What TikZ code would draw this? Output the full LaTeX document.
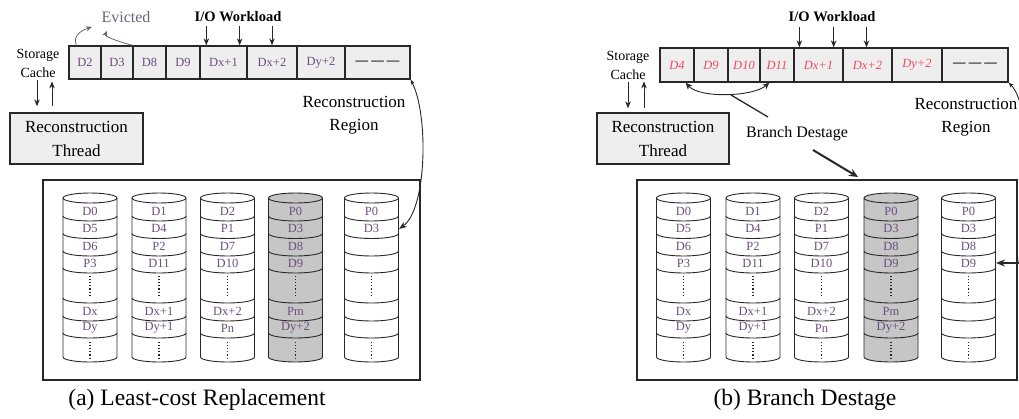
\documentclass[tikz,border=0pt]{standalone}
\usepackage{fontspec}
\setmainfont{Liberation Serif}
\usetikzlibrary{arrows.meta}
\definecolor{labcol}{RGB}{110,78,125}
\definecolor{redlab}{RGB}{235,75,95}
\definecolor{evcol}{RGB}{100,104,125}
\definecolor{cachefill}{RGB}{238,238,238}
\definecolor{diskgray}{RGB}{198,198,198}
\definecolor{linecol}{RGB}{40,40,40}
\tikzset{
  cell/.style={draw=linecol, line width=1.3pt, fill=cachefill, minimum height=33, inner sep=0pt, font=\fontsize{12.5}{14}\selectfont, text=labcol},
  redcell/.style={cell, minimum height=34, text=redlab, font=\fontsize{12.5}{14}\selectfont\itshape},
  dashcell/.style={cell, text=black, font=\fontsize{12.5}{14}\selectfont\bfseries},
  thread/.style={draw=linecol, line width=1.3pt, fill=cachefill, minimum width=133, minimum height=51, inner sep=0pt, align=center, font=\fontsize{17}{24}\selectfont},
  smalltxt/.style={align=center, inner sep=0pt, font=\fontsize{14}{19}\selectfont},
  regtxt/.style={align=center, inner sep=0pt, font=\fontsize{17}{23}\selectfont},
  evtxt/.style={inner sep=0pt, text=evcol, font=\fontsize{16}{18}\selectfont},
  iotxt/.style={inner sep=0pt, font=\fontsize{14.5}{17}\selectfont\bfseries},
  bdtxt/.style={inner sep=0pt, font=\fontsize{16}{18}\selectfont},
  captxt/.style={inner sep=0pt, font=\fontsize{23.5}{26}\selectfont},
  arr/.style={draw=linecol, line width=1pt, -{Stealth[length=7pt,width=5.5pt]}},
  thinarr/.style={draw=evcol, line width=0.8pt, -{Stealth[length=6pt,width=5pt,fill=black]}},
  curvarr/.style={draw=linecol, line width=0.9pt, {Stealth[length=5pt,width=4pt]}-{Stealth[length=8pt,width=6pt]}},
  diskline/.style={draw=linecol, line width=0.9pt},
  disklab/.style={inner sep=0pt, font=\fontsize{12.5}{14}\selectfont, text=labcol},
  arraybox/.style={draw=linecol, line width=1.5pt, inner sep=0pt},
  dotline/.style={draw=linecol, line width=1.1pt, dash pattern=on 1.1pt off 2pt},
}
\newcommand\mydisk[4]{%
  \begin{scope}[shift={(#2,0)}]
    \filldraw[diskline, fill=#3] (-27,198) -- (-27,357)
      arc[start angle=180,end angle=360,x radius=27pt,y radius=5pt] -- (27,198)
      arc[start angle=0,end angle=180,x radius=27pt,y radius=5pt] -- cycle;
    \foreach \s in {198,216,233.5,251,268,298,316,333}
      \draw[diskline] (-27,\s) arc[start angle=180,end angle=360,x radius=27pt,y radius=5pt];
    \draw[dotline] (0,276) -- (0,295);
    \draw[dotline] (0,342) -- (0,359);
    \foreach \lab [count=\i] in {#4} {
      \pgfmathsetmacro\yy{{211,228.5,246,263,311,328}[\i-1]}
      \node[disklab] (#1-\i) at (0,\yy) {\lab};
    }
  \end{scope}
}
\begin{document}
\begin{tikzpicture}[x=1pt,y=-1pt]
\useasboundingbox (0,0) rectangle (1019,418);
\clip (0,0) rectangle (1019,418);
\fill[white] (0,0) rectangle (1019,418);

% ================= LEFT PANEL =================
\foreach \a/\b/\t [count=\i] in {69/101/D2,101/133/D3,133/166/D8,166/200/D9,200/247/Dx+1,247/297/Dx+2,297/345/Dy+2}
  \node[cell, minimum width={\b-\a}] (L\i) at ({(\a+\b)/2},62.5) {\t};
\node[dashcell, minimum width=65] (L8) at (377.5,62.5) {— — —};

\node[smalltxt] (SCa) at (38,63) {Storage\\Cache};
\node[thread] (TLa) at (76.5,138.5) {Reconstruction\\Thread};
\draw[arr, shorten <=3pt, shorten >=6pt] ([xshift=-1]SCa.south) -- ([xshift=-1]SCa.south |- TLa.north);
\draw[arr, shorten <=6pt, shorten >=4pt] ([xshift=14]SCa.south |- TLa.north) -- ([xshift=14]SCa.south);

\node[evtxt] (EV) at (126,17) {Evicted};
\coordinate (ev1) at (92,27);
\coordinate (ev2) at (107,31);
\draw[thinarr] ([xshift=8]L1.north west) .. controls +(-4,-10) and +(-10,3) .. (ev1);
\draw[thinarr] ([xshift=-1]L2.north east) .. controls +(-8,-2) and +(-3,6) .. (ev2);

\node[iotxt] (IOa) at (238,17) {I/O Workload};
\draw[arr] ([xshift=7,yshift=19]L5.north west) -- ([xshift=7]L5.north west);
\draw[arr] ([xshift=-8,yshift=19]L5.north east) -- ([xshift=-8]L5.north east);
\draw[arr] ([yshift=19]L6.north) -- (L6.north);

\node[regtxt] (RRa) at (354,115) {Reconstruction\\Region};

\node[arraybox, minimum width=377, minimum height=200] (ARa) at (231.5,280) {};
\mydisk{a1}{90}{white}{D0,D5,D6,P3,Dx,Dy}
\mydisk{a2}{159}{white}{D1,D4,P2,D11,Dx+1,Dy+1}
\mydisk{a3}{227.5}{white}{D2,P1,D7,D10,Dx+2,Pn}
\mydisk{a4}{295.5}{diskgray}{P0,D3,D8,D9,Pm,Dy+2}
\mydisk{a5}{371.5}{white}{P0,D3,{},{},{},{}}
\coordinate (a5r) at (399,229);
\draw[curvarr] (L8.south east) .. controls +(18,35) and +(28,-20) .. (a5r);

\node[captxt] (capa) at (197,400) {(a) Least-cost Replacement};

% ================= RIGHT PANEL =================
\foreach \a/\b/\t [count=\i] in {660/694/D4,694/728/D9,728/760/D10,760/794/D11,794/843/Dx+1,843/892/Dx+2,892/942/Dy+2}
  \node[redcell, minimum width={\b-\a}] (R\i) at ({(\a+\b)/2},65) {\t};
\node[dashcell, minimum height=34, minimum width=66] (R8) at (975,65) {— — —};

\node[smalltxt] (SCb) at (628,65) {Storage\\Cache};
\node[thread, minimum width=132] (TLb) at (663,138.5) {Reconstruction\\Thread};
\draw[arr, shorten <=3pt, shorten >=4pt] ([xshift=0]SCb.south) -- ([xshift=0]SCb.south |- TLb.north);
\draw[arr, shorten <=4pt, shorten >=2pt] ([xshift=16]SCb.south |- TLb.north) -- ([xshift=16]SCb.south);

\node[iotxt] (IOb) at (832,17) {I/O Workload};
\draw[arr] ([xshift=6,yshift=20]R5.north west) -- ([xshift=6]R5.north west);
\draw[arr] ([xshift=-10,yshift=20]R5.north east) -- ([xshift=-10]R5.north east);
\draw[arr] ([xshift=-1,yshift=20]R6.north) -- ([xshift=-1]R6.north);

\node[regtxt] (RRb) at (966,117) {Reconstruction\\Region};

% branch destage
\draw[draw=linecol, line width=0.9pt, {Stealth[length=7pt,width=6pt]}-{Stealth[length=7pt,width=6pt]}]
  ([xshift=-9]R1.south east) .. controls +(14,16) and +(-16,14) .. ([xshift=10]R4.south west);
\node[bdtxt] (BD) at (797,134) {Branch Destage};
\coordinate (bd1) at (731,95);
\coordinate (bd2) at (768,117);
\draw[draw=linecol, line width=1.3pt] (bd1) -- (bd2);
\coordinate (bd3) at (813,150);
\coordinate (bd4) at (858,177);
\draw[draw=linecol, line width=2pt, -{Stealth[length=9pt,width=8pt]}] (bd3) -- (bd4);

\node[arraybox, minimum width=380, minimum height=200] (ARb) at (827,280) {};
\mydisk{b1}{683.5}{white}{D0,D5,D6,P3,Dx,Dy}
\mydisk{b2}{753}{white}{D1,D4,P2,D11,Dx+1,Dy+1}
\mydisk{b3}{821.5}{white}{D2,P1,D7,D10,Dx+2,Pn}
\mydisk{b4}{891}{diskgray}{P0,D3,D8,D9,Pm,Dy+2}
\mydisk{b5}{968.5}{white}{P0,D3,D8,D9,{},{}}
\coordinate (b5r) at (996,263);
\coordinate (rr1) at (1019,263);
\draw[draw=linecol, line width=0.9pt, {Stealth[length=5pt,width=4pt]}-] (R8.south east) .. controls +(25,25) and +(4,-60) .. (rr1);
\draw[draw=linecol, line width=2pt, -{Stealth[length=9pt,width=7pt]}] (rr1) -- (b5r);

\node[captxt] (capb) at (805,400) {(b) Branch Destage};
\end{tikzpicture}
\end{document}
